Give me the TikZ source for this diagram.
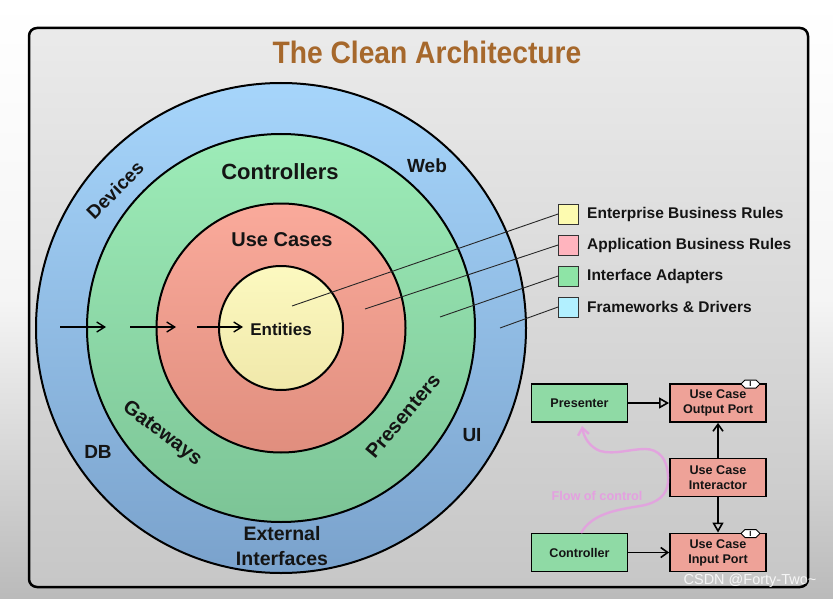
\documentclass[tikz,border=0pt]{standalone}
\usepackage{fontspec}
\setmainfont{Liberation Sans}
\usetikzlibrary{arrows.meta}
\definecolor{titlecol}{RGB}{166,104,44}
\definecolor{bluetop}{RGB}{166,213,251}
\definecolor{bluebot}{RGB}{122,162,204}
\definecolor{greentop}{RGB}{157,236,184}
\definecolor{greenbot}{RGB}{124,196,150}
\definecolor{redtop}{RGB}{250,170,155}
\definecolor{redbot}{RGB}{224,142,126}
\definecolor{yeltop}{RGB}{252,249,192}
\definecolor{yelbot}{RGB}{240,232,170}
\definecolor{legyel}{RGB}{253,251,176}
\definecolor{legpink}{RGB}{255,180,190}
\definecolor{leggreen}{RGB}{142,228,166}
\definecolor{legcyan}{RGB}{178,240,255}
\definecolor{boxgreen}{RGB}{143,218,165}
\definecolor{boxred}{RGB}{238,162,152}
\definecolor{flowpink}{RGB}{228,160,224}
\definecolor{txt}{RGB}{20,20,20}
\begin{document}
\begin{tikzpicture}[x=1pt,y=-1pt,
  ring/.style={draw=black,line width=2},
  ringlabel/.style={font=\bfseries\fontsize{19}{23}\selectfont,text=txt,inner sep=0},
  legsq/.style={draw=black!80,line width=0.8,minimum width=20,minimum height=20,inner sep=0},
  legtext/.style={anchor=west,font=\bfseries\fontsize{15.5}{18}\selectfont,text=txt,inner sep=0},
  legline/.style={draw=black!85,line width=0.9},
  inarrow/.style={line width=1.4,-{Straight Barb[length=8,width=10]}},
  ubox/.style={draw=black,line width=1.8,minimum width=96,minimum height=38,inner sep=1,align=center,
    font=\bfseries\fontsize{12.6}{15}\selectfont,text=txt},
  barb/.style={line width=1.6,-{Straight Barb[length=7,width=10]}},
  tri/.style={line width=1.6,-{Triangle[open,length=10,width=11,line width=1.6]}},
  iface/.style={fill=white,draw=black,line width=1}
]
\useasboundingbox (0,0) rectangle (833,599);
% background
\shade[top color=white,bottom color=black!27,middle color=black!4] (0,0) rectangle (833,599);
% frame
\shade[draw=black,line width=2.5,rounded corners=8,top color=black!8,bottom color=black!22] (29,28) rectangle (808,587);
% title
\node[font=\bfseries\fontsize{31}{34}\selectfont,text=titlecol,xscale=0.91] (title) at (427,52) {The Clean Architecture};
% circles
\shade[ring,top color=bluetop,bottom color=bluebot] (281,328) circle (245);
\shade[ring,top color=greentop,bottom color=greenbot] (281,328) circle (194);
\shade[ring,top color=redtop,bottom color=redbot] (281,328) circle (124.5);
\shade[ring,top color=yeltop,bottom color=yelbot] (281,328) circle (62);
% circle labels
\node[font=\bfseries\fontsize{17}{20}\selectfont,text=txt] (ent) at (281,329) {Entities};
\node[font=\bfseries\fontsize{20}{24}\selectfont,text=txt] (uc) at (282,240) {Use Cases};
\node[font=\bfseries\fontsize{22}{26}\selectfont,text=txt] (ctl) at (280,172) {Controllers};
\node[ringlabel] (web) at (427,166) {Web};
\node[ringlabel,rotate=45] (dev) at (115,190) {Devices};
\node[ringlabel,font=\bfseries\fontsize{20}{24}\selectfont,rotate=-37] (gw) at (162,434) {Gateways};
\node[ringlabel,font=\bfseries\fontsize{20}{24}\selectfont,rotate=50] (pres) at (403,416) {Presenters};
\node[ringlabel] (ui) at (472,435) {UI};
\node[ringlabel] (db) at (98,452) {DB};
\node[ringlabel,align=center,font=\bfseries\fontsize{19.5}{25}\selectfont] (ext) at (282,546) {External\\Interfaces};
% inward arrows
\coordinate (a1s) at (60,327); \coordinate (a1e) at (106,327);
\coordinate (a2s) at (130,327); \coordinate (a2e) at (176,327);
\coordinate (a3s) at (197,327); \coordinate (a3e) at (243,327);
\draw[inarrow] (a1s) -- (a1e);
\draw[inarrow] (a2s) -- (a2e);
\draw[inarrow] (a3s) -- (a3e);
% legend
\node[legsq,fill=legyel] (leg1) at (568.5,214) {};
\node[legsq,fill=legpink] (leg2) at (568.5,245) {};
\node[legsq,fill=leggreen] (leg3) at (568.5,276) {};
\node[legsq,fill=legcyan] (leg4) at (568.5,307) {};
\node[legtext] (lt1) at (587,214) {Enterprise Business Rules};
\node[legtext] (lt2) at (587,245) {Application Business Rules};
\node[legtext] (lt3) at (587,276) {Interface Adapters};
\node[legtext] (lt4) at (587,307) {Frameworks \& Drivers};
\coordinate (p1) at (292,306);
\coordinate (p2) at (365,309);
\coordinate (p3) at (440,317);
\coordinate (p4) at (500,328);
\draw[legline] (leg1.west) -- (p1);
\draw[legline] (leg2.west) -- (p2);
\draw[legline] (leg3.west) -- (p3);
\draw[legline] (leg4.west) -- (p4);
% small diagram
\node[ubox,fill=boxgreen] (presenter) at (579.5,403) {Presenter};
\node[ubox,fill=boxred] (outport) at (718,403) {Use Case\\Output Port};
\node[ubox,fill=boxred] (interactor) at (718,477.5) {Use Case\\Interactor};
\node[ubox,fill=boxred] (inport) at (718,552.5) {Use Case\\Input Port};
\node[ubox,fill=boxgreen] (controller) at (579.5,552.5) {Controller};
\draw[tri] (presenter) -- (outport);
\draw[barb] (interactor) -- (outport);
\draw[tri] (interactor) -- (inport);
\draw[barb] (controller) -- (inport);
% interface markers
\foreach \yy/\nm in {384/ifo,533.5/ifi}{
  \draw[iface] (741,\yy) -- (745,\yy-4) -- (756,\yy-4) -- (760,\yy) -- (756,\yy+4) -- (745,\yy+4) -- cycle;
  \node[inner sep=0,font=\bfseries\fontsize{7.5}{7.5}\selectfont] (\nm) at (750.5,\yy) {I};
}
% flow of control
\coordinate (fs) at (581,533);
\coordinate (fe) at (582,426);
\draw[flowpink,opacity=0.9,line width=2.4,-{Straight Barb[length=7,width=11]}]
  (fs) .. controls (592,514) and (615,510) .. (640,506)
       .. controls (658,503) and (667,495) .. (668,482)
       .. controls (669,458) and (658,449) .. (645,449)
       .. controls (630,449) and (615,455) .. (600,451)
       .. controls (590,447) and (584,438) .. (fe);
\node[font=\bfseries\fontsize{12.7}{15}\selectfont,text=flowpink] (flow) at (597,496) {Flow of control};
% watermark
\node[font=\fontsize{14.5}{17}\selectfont,text=white,opacity=0.85] (wm) at (750,581) {CSDN @Forty-Two\textasciitilde};
\end{tikzpicture}
\end{document}
